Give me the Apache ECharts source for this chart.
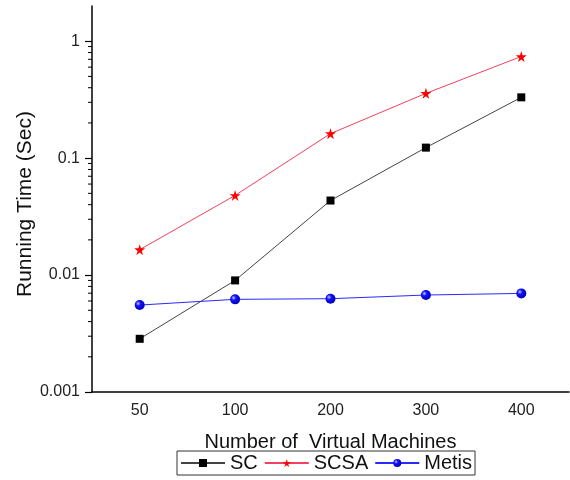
<!DOCTYPE html>
<html>
<head>
<meta charset="utf-8">
<script src="https://cdn.jsdelivr.net/npm/echarts@6/dist/echarts.min.js"></script>
<style>html,body{margin:0;padding:0;background:#fff}#c{width:570px;height:480px}</style>
</head>
<body>
<div id="c"></div>
<script>
const categories = ['50', '100', '200', '300', '400'];
const scValues = [0.00285, 0.0090, 0.0434, 0.123, 0.331];
const scsaValues = [0.0165, 0.048, 0.162, 0.358, 0.74];
const metisValues = [0.00554, 0.0062, 0.00628, 0.00675, 0.00697];
const yMinorTicks = [0.002,0.003,0.004,0.005,0.006,0.007,0.008,0.009,
  0.02,0.03,0.04,0.05,0.06,0.07,0.08,0.09,
  0.2,0.3,0.4,0.5,0.6,0.7,0.8,0.9];

const FONT = 'Liberation Sans';
const starPath = 'path://M50,0 L61,35 L98,35 L68,57 L79,91 L50,70 L21,91 L32,57 L2,35 L39,35 Z';

const chart = echarts.init(document.getElementById('c'));
const sphere = new echarts.graphic.RadialGradient(0.35, 0.35, 0.7, [
  {offset: 0, color: '#c8c8ff'},
  {offset: 0.35, color: '#1010ff'},
  {offset: 1, color: '#0000b0'}
]);

chart.setOption({
  animation: false,
  backgroundColor: '#fff',
  textStyle: {fontFamily: FONT},
  grid: {left: 92, right: 1, top: 6, bottom: 88, containLabel: false},
  legend: {
    data: ['SC', 'SCSA', 'Metis'],
    left: 177, top: 451,
    padding: [2, 3, 2, 3],
    borderColor: '#333', borderWidth: 1,
    itemWidth: 44, itemHeight: 10, itemGap: 6,
    textStyle: {fontFamily: FONT, fontSize: 20, color: '#111', padding: [0,0,0,0]}
  },
  xAxis: [{
    type: 'category',
    data: categories,
    boundaryGap: true,
    name: 'Number of  Virtual Machines',
    nameLocation: 'middle',
    nameGap: 40,
    nameMoveOverlap: false,
    nameTextStyle: {fontFamily: FONT, fontSize: 20, color: '#111'},
    axisLine: {lineStyle: {color: '#000', width: 1.5}},
    axisTick: {alignWithLabel: true, length: 6, lineStyle: {color: '#000', width: 1.2}},
    axisLabel: {fontFamily: FONT, fontSize: 16, color: '#222', margin: 11},
    splitLine: {show: false}
  }, {
    type: 'category',
    data: categories,
    boundaryGap: true,
    position: 'bottom',
    axisLine: {show: false},
    axisTick: {length: 3, lineStyle: {color: '#000', width: 1}},
    axisLabel: {show: false},
    splitLine: {show: false}
  }],
  yAxis: {
    type: 'log',
    logBase: 10,
    min: 0.001,
    max: 2,
    name: 'Running Time (Sec)',
    nameLocation: 'middle',
    nameGap: 56,
    nameMoveOverlap: false,
    nameTextStyle: {fontFamily: FONT, fontSize: 21, color: '#111', padding: [0, 10, 0, 0]},
    axisLine: {show: true, lineStyle: {color: '#000', width: 1.5}},
    axisTick: {show: true, length: 7, lineStyle: {color: '#000', width: 1.2}},
    axisLabel: {fontFamily: FONT, fontSize: 16, color: '#222', margin: 12, showMaxLabel: false,
      formatter: v => (v > 1.5 ? '' : String(+v.toPrecision(3)))},
    splitLine: {show: false}
  },
  series: [{
    name: 'SC', type: 'line', data: scValues,
    symbol: 'rect', symbolSize: 8,
    itemStyle: {color: '#000'},
    lineStyle: {color: '#444', width: 1}
  }, {
    name: 'SCSA', type: 'line', data: scsaValues,
    symbol: starPath, symbolSize: 11,
    itemStyle: {color: '#ff0000'},
    lineStyle: {color: '#f2405e', width: 1}
  }, {
    name: 'Metis', type: 'line', data: metisValues,
    symbol: 'circle', symbolSize: 10,
    itemStyle: {color: sphere},
    lineStyle: {color: '#2a2aff', width: 1}
  }, {
    type: 'custom',
    clip: false,
    silent: true,
    data: yMinorTicks.map(v => [0, v]),
    encode: {x: 0, y: 1},
    renderItem: function (params, api) {
      const y = api.coord([0, api.value(1)])[1];
      const x = params.coordSys.x;
      return {type: 'line', shape: {x1: x - 4, y1: y, x2: x, y2: y}, style: {stroke: '#000', lineWidth: 1}};
    }
  }]
});
</script>
</body>
</html>
